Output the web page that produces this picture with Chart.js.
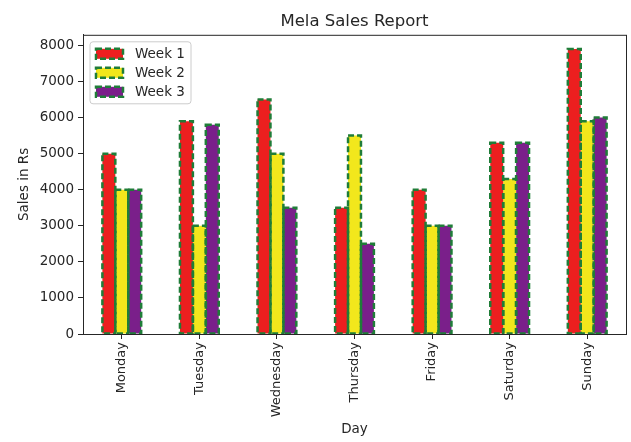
<!DOCTYPE html>
<html>
<head>
<meta charset="utf-8">
<script src="https://cdn.jsdelivr.net/npm/chart.js@4/dist/chart.umd.min.js"></script>
<style>
    html, body { margin: 0; padding: 0; background: #ffffff; }
    #wrap { width: 631px; height: 442px; }
</style>
</head>
<body>
<div id="wrap"><canvas id="mela-chart" width="631" height="442"></canvas></div>
<script>
// data
const days = ["Monday", "Tuesday", "Wednesday", "Thursday", "Friday", "Saturday", "Sunday"];
const week1 = [5000, 5900, 6500, 3500, 4000, 5300, 7900];
const week2 = [4000, 3000, 5000, 5500, 3000, 4300, 5900];
const week3 = [4000, 5800, 3500, 2500, 3000, 5300, 6000];
const seriesNames = ["Week 1", "Week 2", "Week 3"];
const yTicks = [0, 1000, 2000, 3000, 4000, 5000, 6000, 7000, 8000];
const yMax = 8295;

const fillColors = ["#ec1f1f", "#f2e71c", "#7a1f8a"];
const edgeColor = "#1f7d38";
const inkColor = "#262626";
const font = "'DejaVu Sans', sans-serif";

// dashed bar edges (bar elements have no borderDash of their own)
const dashedEdges = {
    id: "dashedEdges",
    afterDatasetsDraw(chart) {
        const ctx = chart.ctx;
        ctx.save();
        ctx.strokeStyle = edgeColor;
        ctx.lineWidth = 2.5;
        ctx.setLineDash([6, 3]);
        chart.data.datasets.forEach((ds, i) => {
            chart.getDatasetMeta(i).data.forEach(bar => {
                const p = bar.getProps(["x", "y", "base", "width"], true);
                ctx.strokeRect(p.x - p.width / 2, p.y, p.width, p.base - p.y);
            });
        });
        ctx.restore();
    }
};

// box round the plot, legend inside the top left corner
const frameAndLegend = {
    id: "frameAndLegend",
    afterDraw(chart) {
        const ctx = chart.ctx;
        const a = chart.chartArea;
        ctx.save();
        ctx.strokeStyle = inkColor;
        ctx.lineWidth = 1;
        ctx.strokeRect(a.left + 0.5, a.top + 0.5, a.right - a.left, a.bottom - a.top);

        const bx = a.left + 7, by = a.top + 7, bw = 101, bh = 62;
        ctx.fillStyle = "rgba(255,255,255,0.8)";
        ctx.strokeStyle = "#cccccc";
        ctx.beginPath();
        ctx.roundRect(bx, by, bw, bh, 3);
        ctx.fill();
        ctx.stroke();

        ctx.font = "13.5px " + font;
        ctx.textBaseline = "middle";
        chart.data.datasets.forEach((ds, i) => {
            const cy = by + 12 + i * 19;
            ctx.fillStyle = ds.backgroundColor;
            ctx.fillRect(bx + 6, cy - 5, 27, 10);
            ctx.strokeStyle = edgeColor;
            ctx.lineWidth = 2.5;
            ctx.setLineDash([6, 3]);
            ctx.strokeRect(bx + 6, cy - 5, 27, 10);
            ctx.setLineDash([]);
            ctx.fillStyle = inkColor;
            ctx.fillText(ds.label, bx + 45, cy + 1);
        });
        ctx.restore();
    }
};

new Chart(document.getElementById("mela-chart"), {
    type: "bar",
    data: {
        labels: days,
        datasets: [week1, week2, week3].map((vals, i) => ({
            label: seriesNames[i],
            data: vals,
            backgroundColor: fillColors[i],
            borderWidth: 0,
            categoryPercentage: 0.5,
            barPercentage: 1.0
        }))
    },
    options: {
        responsive: false,
        animation: false,
        devicePixelRatio: 1,
        layout: { padding: { left: 0, right: 5, top: 0, bottom: 0 } },
        plugins: {
            legend: { display: false },
            tooltip: { enabled: false },
            title: {
                display: true,
                fullSize: false, // centre over the plot, not the canvas
                text: "Mela Sales Report",
                color: inkColor,
                font: { family: font, size: 16.5, weight: "normal" },
                padding: { top: 12, bottom: 3 }
            }
        },
        scales: {
            x: {
                offset: true,
                grid: { offset: false, drawOnChartArea: false, drawTicks: true, tickLength: 5, color: inkColor },
                border: { color: inkColor },
                ticks: {
                    color: inkColor,
                    font: { family: font, size: 13 },
                    maxRotation: 90,
                    minRotation: 90,
                    autoSkip: false,
                    padding: 3
                },
                title: {
                    display: true,
                    text: "Day",
                    color: inkColor,
                    font: { family: font, size: 13.5 },
                    padding: { top: 0, bottom: 4 }
                },
                afterFit(scale) { scale.height = 108; }
            },
            y: {
                min: 0,
                max: yMax,
                grid: { drawOnChartArea: false, drawTicks: true, tickLength: 5, color: inkColor },
                border: { color: inkColor },
                ticks: {
                    color: inkColor,
                    font: { family: font, size: 13.5 },
                    padding: 4,
                    callback: value => String(value)
                },
                afterBuildTicks(scale) {
                    scale.ticks = yTicks.map(v => ({ value: v }));
                },
                title: {
                    display: true,
                    text: "Sales in Rs",
                    color: inkColor,
                    font: { family: font, size: 13.5 },
                    padding: { top: 16, bottom: 0 }
                },
                afterFit(scale) { scale.width = 83; }
            }
        }
    },
    plugins: [dashedEdges, frameAndLegend]
});
</script>
</body>
</html>
